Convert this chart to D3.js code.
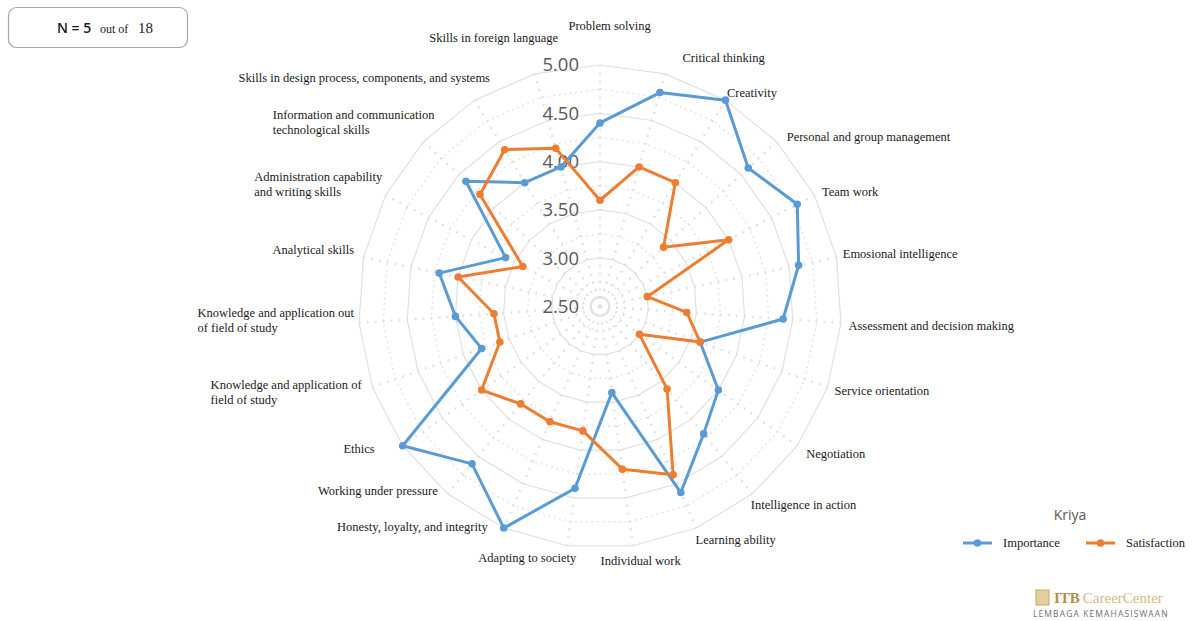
<!DOCTYPE html>
<html>
<head>
<meta charset="utf-8">
<script src="https://cdn.jsdelivr.net/npm/d3@7"></script>
<style>
  html, body { margin: 0; padding: 0; background: #ffffff; }
  svg { display: block; }
</style>
</head>
<body>
<svg id="chart" width="1192" height="621"></svg>
<script>
// Competency categories, clockwise from the top
const categories = [
  "Problem solving",
  "Critical thinking",
  "Creativity",
  "Personal and group management",
  "Team work",
  "Emosional intelligence",
  "Assessment and decision making",
  "Service orientation",
  "Negotiation",
  "Intelligence in action",
  "Learning ability",
  "Individual work",
  "Adapting to society",
  "Honesty, loyalty, and integrity",
  "Working under pressure",
  "Ethics",
  "Knowledge and application of|field of study",
  "Knowledge and application out|of field of study",
  "Analytical skills",
  "Administration capability|and writing skills",
  "Information and communication|technological skills",
  "Skills in design process, components, and systems",
  "Skills in foreign language"
];

// Average scores (N = 5)
const importance = [4.4, 4.8, 5.0, 4.6, 4.8, 4.6, 4.4, 3.6, 4.0, 4.2, 4.6, 3.4,
                    4.4, 5.0, 4.6, 5.0, 3.8, 4.0, 4.2, 3.6, 4.4, 4.0, 4.0];
const satisfaction = [3.6, 4.0, 4.0, 3.4, 4.0, 3.0, 3.4, 3.6, 3.0, 3.6, 4.4, 4.2,
                      3.8, 3.8, 3.8, 4.0, 3.6, 3.6, 4.0, 3.4, 4.2, 4.4, 4.2];

const seriesNames = ["Importance", "Satisfaction"];
const tickValues = [2.5, 3.0, 3.5, 4.0, 4.5, 5.0];
const tickLabels = ["2.50", "3.00", "3.50", "4.00", "4.50", "5.00"];
const minorTicks = [2.75, 3.25, 3.75, 4.25, 4.75];

const respondents = 5;
const population = 18;
const groupName = "Kriya";

// Small nudges so category labels sit clear of the outer ring
const labelNudge = [
  [10, -31], [15, -8], [-3, 0], [4, 1], [0, 0], [-2, -2], [-1, 2], [-1, 0],
  [2, 3], [-7, 4], [-4, 4], [7, 6], [11, 3], [-12, -9], [-4, -10], [-21, -2],
  [-2, 2], [4, -3], [-1, -6], [5, -7], [18, -14], [20, -15], [26, -28]
];

const svg = d3.select("#chart");
const cx = 600, cy = 306.5, R = 241.5;
const n = categories.length;

const r = d3.scaleLinear().domain([2.5, 5]).range([0, R]);
const angle = d3.scaleLinear().domain([0, n]).range([0, 2 * Math.PI]);

const g = svg.append("g").attr("transform", `translate(${cx},${cy})`);

const ringPath = v => d3.lineRadial()
  .angle((d, i) => angle(i))
  .radius(() => r(v))
  .curve(d3.curveLinearClosed)(categories);

// minor (dotted) rings
g.append("g").selectAll("path").data(minorTicks).join("path")
  .attr("d", d => ringPath(d))
  .attr("fill", "none")
  .attr("stroke", "#dedede")
  .attr("stroke-width", 1.5)
  .attr("stroke-dasharray", "1.5,4");

// innermost small ring
g.append("path")
  .attr("d", ringPath(2.6))
  .attr("fill", "none")
  .attr("stroke", "#dcdcdc")
  .attr("stroke-width", 1.5);

// major rings
g.append("g").selectAll("path").data(tickValues.filter(v => v > 2.5)).join("path")
  .attr("d", d => ringPath(d))
  .attr("fill", "none")
  .attr("stroke", "#e0e0e0")
  .attr("stroke-width", 1.2);

// spokes
g.append("g").selectAll("line").data(categories).join("line")
  .attr("x1", 0).attr("y1", 0)
  .attr("x2", (d, i) => r(5) * Math.sin(angle(i)))
  .attr("y2", (d, i) => -r(5) * Math.cos(angle(i)))
  .attr("stroke", "#e2e2e2")
  .attr("stroke-width", 2.5)
  .attr("stroke-dasharray", "2,6");

// value axis labels
g.append("g").selectAll("text").data(tickValues).join("text")
  .attr("x", -21)
  .attr("y", d => -r(d))
  .attr("dy", "0.35em")
  .attr("text-anchor", "end")
  .attr("font-family", "'Open Sans', sans-serif")
  .attr("font-size", 18.5)
  .attr("fill", "#595959")
  .text((d, i) => tickLabels[i]);

// series
const colors = d3.scaleOrdinal().domain(seriesNames).range(["#5b9bd5", "#ed7d31"]);
const series = [
  { name: seriesNames[0], values: importance },
  { name: seriesNames[1], values: satisfaction }
];

const line = d3.lineRadial()
  .angle((d, i) => angle(i))
  .radius(d => r(d))
  .curve(d3.curveLinearClosed);

series.forEach(s => {
  const sg = g.append("g");
  sg.append("path")
    .attr("d", line(s.values))
    .attr("fill", "none")
    .attr("stroke", colors(s.name))
    .attr("stroke-width", 3)
    .attr("stroke-linejoin", "round");
  sg.selectAll("circle").data(s.values).join("circle")
    .attr("cx", (d, i) => r(d) * Math.sin(angle(i)))
    .attr("cy", (d, i) => -r(d) * Math.cos(angle(i)))
    .attr("r", 3.8)
    .attr("fill", colors(s.name));
});

// category labels
const labelR = 250;
const labels = g.append("g")
  .attr("font-family", "'Liberation Serif', 'Times New Roman', serif")
  .attr("font-size", 12.5)
  .attr("fill", "#1a1a1a");

categories.forEach((c, i) => {
  const a = angle(i);
  const s = Math.sin(a);
  const ax = labelR * s + labelNudge[i][0];
  const ay = -labelR * Math.cos(a) + labelNudge[i][1];
  const anchor = s > 0.15 ? "start" : (s < -0.1 ? "end" : "middle");
  const lines = c.split("|");
  const t = labels.append("text").attr("y", ay);
  const lh = 15;
  lines.forEach((ln, k) => {
    t.append("tspan")
      .attr("x", 0)
      .attr("y", ay + (k - (lines.length - 1) / 2) * lh)
      .attr("dy", "0.35em")
      .text(ln);
  });
  // left-aligned text block placed according to the anchor side
  const w = t.node().getBBox().width;
  let x0 = ax;
  if (anchor === "end") x0 = ax - w;
  else if (anchor === "middle") x0 = ax - w / 2;
  t.selectAll("tspan").attr("x", x0);
});

// N box
const nb = svg.append("g");
nb.append("rect")
  .attr("x", 8.5).attr("y", 7.5).attr("width", 179).attr("height", 40)
  .attr("rx", 8).attr("fill", "#fff").attr("stroke", "#a6a6a6").attr("stroke-width", 1.2);
const nt = nb.append("text").attr("y", 27).attr("dy", "0.35em")
  .attr("font-family", "'Liberation Serif', serif").attr("fill", "#1a1a1a");
nt.append("tspan").attr("x", 57).attr("font-family", "'Open Sans', sans-serif")
  .attr("font-size", 14).attr("font-weight", 600).text(`N = ${respondents}`);
nt.append("tspan").attr("x", 100).attr("font-size", 12).text("out of");
nt.append("tspan").attr("x", 138).attr("font-size", 15).text(population);

// legend
const lg = svg.append("g");
lg.append("text").attr("x", 1070).attr("y", 515).attr("dy", "0.35em")
  .attr("text-anchor", "middle")
  .attr("font-family", "'Open Sans', sans-serif").attr("font-size", 14)
  .attr("fill", "#595959").text(groupName);
const legendX = [963, 1086];
series.forEach((s, i) => {
  const x = legendX[i];
  lg.append("line").attr("x1", x).attr("x2", x + 29).attr("y1", 543).attr("y2", 543)
    .attr("stroke", colors(s.name)).attr("stroke-width", 3);
  lg.append("circle").attr("cx", x + 14.5).attr("cy", 543).attr("r", 3.8).attr("fill", colors(s.name));
  lg.append("text").attr("x", x + 40).attr("y", 543).attr("dy", "0.35em")
    .attr("font-family", "'Liberation Serif', serif").attr("font-size", 12.5)
    .attr("fill", "#1a1a1a").text(s.name);
});

// organisation mark
const logo = svg.append("g");
logo.append("rect").attr("x", 1036).attr("y", 590).attr("width", 13).attr("height", 15)
  .attr("fill", "#e3cf9e").attr("stroke", "#c9a85f").attr("stroke-width", 1);
const lt = logo.append("text").attr("x", 1054).attr("y", 603)
  .attr("font-family", "'Liberation Serif', serif").attr("font-size", 15);
lt.append("tspan").attr("font-weight", "bold").attr("fill", "#b48d4a").text("ITB");
lt.append("tspan").attr("fill", "#d6b985").attr("dx", 3).text("CareerCenter");
logo.append("text").attr("x", 1033).attr("y", 617)
  .attr("font-family", "'Open Sans', sans-serif").attr("font-size", 8.5)
  .attr("letter-spacing", 1.1).attr("fill", "#6f6f6f").text("LEMBAGA KEMAHASISWAAN");
</script>
</body>
</html>
